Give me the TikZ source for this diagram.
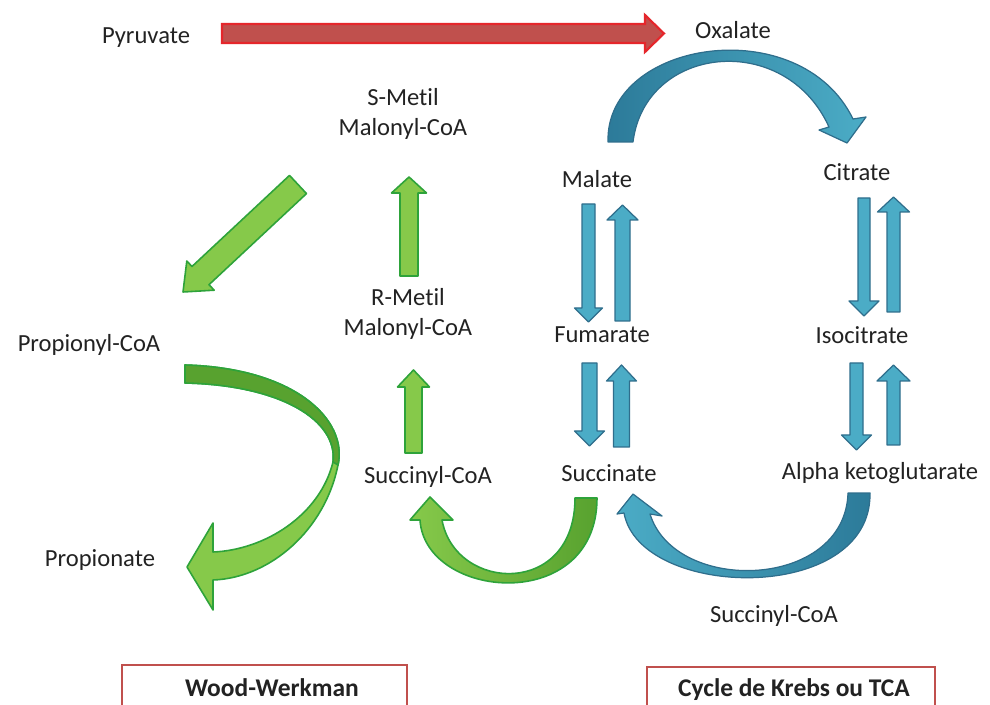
\documentclass[tikz,border=0pt]{standalone}
\usepackage{fontspec}
\setmainfont{Carlito}[Ligatures=NoCommon]
\definecolor{bfill}{HTML}{4BACC6}
\definecolor{bdark}{HTML}{2C7A99}
\definecolor{bedge}{HTML}{2F6E8C}
\definecolor{gfill}{HTML}{86C94A}
\definecolor{gdark}{HTML}{58A22F}
\definecolor{gedge}{HTML}{2EA33A}
\definecolor{rfill}{HTML}{C0504D}
\definecolor{redge}{HTML}{E5262B}
\definecolor{boxedge}{HTML}{C0504D}
\definecolor{txt}{HTML}{222222}
% vertical block arrow: style, x, y tail, y tip, shaft half width, head half width, y head base
\newcommand\vblock[7]{%
  \draw[#1] (#2-#5,#3) -- (#2-#5,#7) -- (#2-#6,#7) -- (#2,#4) -- (#2+#6,#7) -- (#2+#5,#7) -- (#2+#5,#3) -- cycle;}
\begin{document}
\begin{tikzpicture}[x=0.02cm,y=-0.02cm,
  lbl/.style={text=txt,font=\fontsize{14}{17.5}\selectfont,inner sep=0pt,align=center},
  boxlbl/.style={text=txt,font=\fontsize{14.5}{17}\selectfont\bfseries,inner sep=0pt},
  barrow/.style={draw=bedge,fill=bfill,line width=0.7pt,line join=round},
  garrow/.style={draw=gedge,fill=gfill,line width=0.9pt,line join=round},
  rarrow/.style={draw=redge,fill=rfill,line width=1.2pt,line join=miter},
  titlebox/.style={draw=boxedge,line width=1.2pt,fill=white}]
\clip (0,0) rectangle (990,705);
\fill[white] (0,0) rectangle (990,705);

% ---- labels ----
\node[lbl] (pyr) at (146,38) {Pyruvate};
\node[lbl] (oxa) at (733,30) {Oxalate};
\node[lbl] (smm) at (403,114) {S-Metil\\Malonyl-CoA};
\node[lbl] (mal) at (597,179) {Malate};
\node[lbl] (cit) at (857,172) {Citrate};
\node[lbl] (prc) at (89,345) {Propionyl-CoA};
\node[lbl] (rmm) at (408,314) {R-Metil\\Malonyl-CoA};
\node[lbl] (fum) at (602,335) {Fumarate};
\node[lbl] (iso) at (862,335) {Isocitrate};
\node[lbl] (scl) at (428,477) {Succinyl-CoA};
\node[lbl] (suc) at (609,473) {Succinate};
\node[lbl] (akg) at (880,473) {Alpha ketoglutarate};
\node[lbl] (prp) at (100,560) {Propionate};
\node[lbl] (scb) at (774,616) {Succinyl-CoA};

% ---- title boxes ----
\draw[titlebox] (122,665) rectangle (407,730);
\node[boxlbl] (ww) at (272,688) {Wood-Werkman};
\draw[titlebox] (647,667) rectangle (935,730);
\node[boxlbl] (krebs) at (794,690) {Cycle de Krebs ou TCA};

% ---- red arrow Pyruvate -> Oxalate ----
\draw[rarrow] (222,24) -- (645,24) -- (645,15) -- (664,33.5) -- (645,52) -- (645,43) -- (222,43) -- cycle;

% ---- blue top arc Malate -> Citrate ----
\draw[barrow,left color=bdark,right color=bfill]
  (608,142) .. controls (605,40) and (800,10) .. (853,119)
  -- (866,117) -- (847,143) -- (819,130) -- (829,127)
  .. controls (785,30) and (645,45) .. (633,142) -- cycle;

% ---- blue bottom arc Alpha ketoglutarate -> Succinate ----
\draw[barrow,left color=bfill,right color=bdark]
  (870,493) .. controls (872,605) and (640,600) .. (624,513)
  -- (617,514) -- (633,494) -- (662,516) -- (650,514)
  .. controls (675,595) and (845,590) .. (848,493) -- cycle;

% ---- blue vertical arrows ----
\vblock{barrow}{588.5}{204}{322}{6.5}{14}{308}
\vblock{barrow}{622.5}{321}{205}{7.5}{15.5}{220}
\vblock{barrow}{589.5}{363}{446}{7.5}{15}{431}
\vblock{barrow}{621.5}{447}{365}{8}{15}{381}
\vblock{barrow}{864}{198}{316}{6}{15}{301}
\vblock{barrow}{893.5}{312}{197}{6.5}{16}{212}
\vblock{barrow}{856.5}{363}{450}{6.5}{15}{435}
\vblock{barrow}{893.5}{445}{365}{6.5}{16.5}{381}

% ---- green vertical arrows ----
\vblock{garrow}{409}{276}{177}{9}{17.5}{193}
\vblock{garrow}{413.5}{453}{370}{8.5}{16}{387}

% ---- green diagonal arrow S-Metil -> Propionyl-CoA ----
\draw[garrow] (306.5,193.6) -- (209.0,284.7) -- (214.2,290.2) -- (183,292)
  -- (186.8,261.0) -- (192.0,266.5) -- (289.5,175.4) -- cycle;

% ---- green big curved arrow Propionyl-CoA -> Propionate ----
\draw[garrow]
  (185,365) .. controls (295,368) and (348,420) .. (338,465)
  .. controls (325,530) and (270,578) .. (213,580)
  -- (213,610) -- (187,567) -- (213,523) -- (213,552)
  .. controls (265,550) and (320,515) .. (333,462)
  .. controls (338,420) and (280,385) .. (185,383) -- cycle;
\draw[draw=gedge,fill=gdark,line width=0.9pt,line join=round]
  (185,365) .. controls (295,368) and (348,420) .. (338,465)
  -- (333,462) .. controls (338,420) and (280,385) .. (185,383) -- cycle;

% ---- green small curved arrow Succinate -> Succinyl-CoA ----
\draw[garrow,left color=gfill,right color=gdark]
  (597,498) .. controls (597,615) and (425,600) .. (420,520)
  -- (410,520) -- (430,497) -- (453,520) -- (442,520)
  .. controls (455,592) and (575,598) .. (575,498) -- cycle;
\end{tikzpicture}
\end{document}
